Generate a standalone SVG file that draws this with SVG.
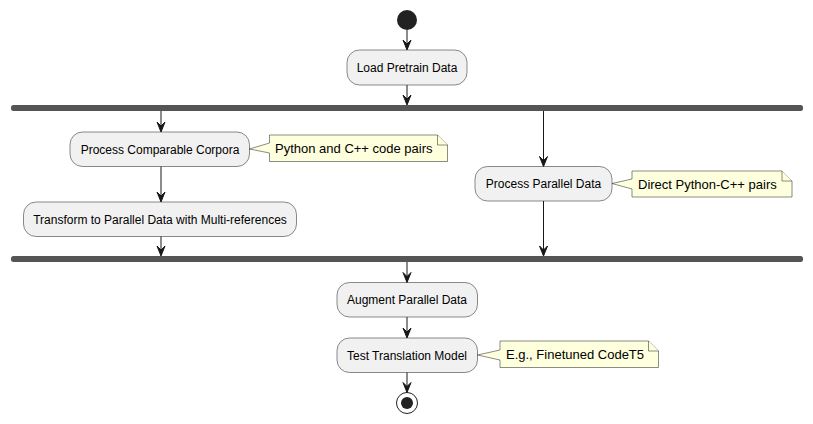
<svg xmlns="http://www.w3.org/2000/svg" width="813" height="424" viewBox="0 0 813 424">
<defs>
<style>
.box{fill:#F1F1F1;stroke:#181818;stroke-width:0.5}
.note{fill:#FEFFDD;stroke:#181818;stroke-width:0.5}
.bar{fill:#555555;stroke:none}
.t{font-family:"Liberation Sans",Arial,sans-serif;font-size:12px;fill:#000;text-anchor:middle}
.nt{font-family:"Liberation Sans",Arial,sans-serif;font-size:13px;fill:#000}
.ln{stroke:#181818;stroke-width:1;fill:none}
.ah{fill:#181818;stroke:#181818;stroke-width:1}
</style>
<marker id="arr" viewBox="0 0 10 12" refX="5" refY="10" markerWidth="10" markerHeight="12" markerUnits="userSpaceOnUse" orient="auto-start-reverse">
</marker>
</defs>
<rect width="813" height="424" fill="#FFFFFF"/>
<g id="start"><circle cx="407" cy="20" r="10" fill="#222222"/></g>
<g id="load"><rect class="box" x="347" y="50" width="120" height="35" rx="12.5"/><text class="t" x="407" y="72">Load Pretrain Data</text></g>
<g id="fork1"><rect class="bar" x="11" y="105" width="792" height="6" rx="2.5"/></g>
<g id="comparable"><rect class="box" x="70" y="132" width="179.5" height="34.5" rx="12.5"/><text class="t" x="160" y="153.5">Process Comparable Corpora</text></g>
<g id="note1"><path class="note" d="M269.5,135 L437.5,135 L447.5,145 L447.5,161.5 L269.5,161.5 L269.5,153 L249.5,149 L269.5,143 Z"/><path class="note" d="M437.5,135 L437.5,145 L447.5,145"/><text class="nt" x="275" y="153">Python and C++ code pairs</text></g>
<g id="transform"><rect class="box" x="23.5" y="202" width="273" height="34.5" rx="12.5"/><text class="t" x="160" y="223.5">Transform to Parallel Data with Multi-references</text></g>
<g id="parallel"><rect class="box" x="475" y="166.5" width="137" height="34.5" rx="12.5"/><text class="t" x="543.5" y="188">Process Parallel Data</text></g>
<g id="note2"><path class="note" d="M632,171 L782,171 L792,181 L792,197 L632,197 L632,189 L612,183.5 L632,179 Z"/><path class="note" d="M782,171 L782,181 L792,181"/><text class="nt" x="638" y="189">Direct Python-C++ pairs</text></g>
<g id="fork2"><rect class="bar" x="11" y="256" width="792" height="6" rx="2.5"/></g>
<g id="augment"><rect class="box" x="337" y="282.5" width="140.5" height="34.5" rx="12.5"/><text class="t" x="407" y="304">Augment Parallel Data</text></g>
<g id="test"><rect class="box" x="337" y="338" width="140.5" height="34.5" rx="12.5"/><text class="t" x="407" y="359.5">Test Translation Model</text></g>
<g id="note3"><path class="note" d="M500,341 L648.5,341 L658.5,351 L658.5,367.5 L500,367.5 L500,360 L477.5,355 L500,350 Z"/><path class="note" d="M648.5,341 L648.5,351 L658.5,351"/><text class="nt" x="506" y="359">E.g., Finetuned CodeT5</text></g>
<g id="end"><circle cx="407" cy="403" r="10.5" fill="none" stroke="#222222" stroke-width="1"/><circle cx="407" cy="403" r="6" fill="#222222"/></g>
<g id="connectors">
<line class="ln" x1="407" y1="30" x2="407" y2="49"/><polygon class="ah" points="403,40 407,50 411,40 407,44"/>
<line class="ln" x1="407" y1="85" x2="407" y2="104"/><polygon class="ah" points="403,95 407,105 411,95 407,99"/>
<line class="ln" x1="161" y1="111" x2="161" y2="131"/><polygon class="ah" points="157,122 161,132 165,122 161,126"/>
<line class="ln" x1="161" y1="166.5" x2="161" y2="201"/><polygon class="ah" points="157,192 161,202 165,192 161,196"/>
<line class="ln" x1="161" y1="236.5" x2="161" y2="255"/><polygon class="ah" points="157,246 161,256 165,246 161,250"/>
<line class="ln" x1="543.5" y1="111" x2="543.5" y2="165.5"/><polygon class="ah" points="539.5,156.5 543.5,166.5 547.5,156.5 543.5,160.5"/>
<line class="ln" x1="543.5" y1="201" x2="543.5" y2="255"/><polygon class="ah" points="539.5,246 543.5,256 547.5,246 543.5,250"/>
<line class="ln" x1="407" y1="262" x2="407" y2="281.5"/><polygon class="ah" points="403,272.5 407,282.5 411,272.5 407,276.5"/>
<line class="ln" x1="407" y1="317" x2="407" y2="337"/><polygon class="ah" points="403,328 407,338 411,328 407,332"/>
<line class="ln" x1="407" y1="372.5" x2="407" y2="391.5"/><polygon class="ah" points="403,382.5 407,392.5 411,382.5 407,386.5"/>
</g>
</svg>
